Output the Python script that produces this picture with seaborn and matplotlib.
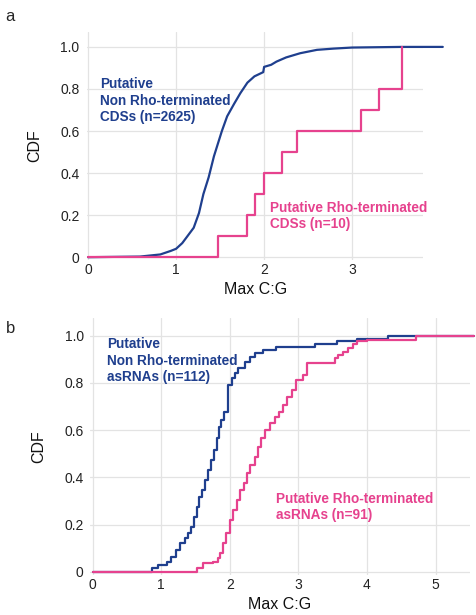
import seaborn as sns
import matplotlib.pyplot as plt

# a: CDSs (x = Max C:G, y = CDF)
cds_non_x = [0.0, 0.59, 0.82, 0.94, 1.0, 1.07, 1.12, 1.2, 1.26, 1.31, 1.37, 1.43, 1.49,
             1.52, 1.58, 1.66, 1.73, 1.81, 1.89, 1.99, 2.0, 2.08, 2.14, 2.25, 2.41,
             2.6, 2.79, 3.0, 3.56, 4.03]
cds_non_y = [0.0, 0.003, 0.013, 0.03, 0.04, 0.067, 0.095, 0.14, 0.21, 0.30, 0.38, 0.48,
             0.56, 0.60, 0.67, 0.73, 0.78, 0.83, 0.86, 0.88, 0.905, 0.915, 0.93, 0.95,
             0.97, 0.986, 0.992, 0.997, 1.0, 1.0]
# the 10 Rho-terminated CDSs
cds_rho = [1.48, 1.80, 1.90, 2.00, 2.20, 2.37, 3.10, 3.30, 3.57, 3.57]

# b: asRNAs (step corners)
as_non_x = [0, 0.86, 0.957, 1.09, 1.14, 1.22, 1.27, 1.35, 1.39, 1.44, 1.48, 1.52, 1.55,
            1.59, 1.64, 1.68, 1.73, 1.77, 1.81, 1.84, 1.87, 1.91, 1.97, 2.03, 2.07, 2.12,
            2.22, 2.29, 2.37, 2.49, 2.68, 3.24, 3.56, 3.85, 4.31, 5.56]
as_non_y = [0, 0.014, 0.028, 0.042, 0.064, 0.092, 0.12, 0.141, 0.163, 0.19, 0.233, 0.275,
            0.318, 0.346, 0.389, 0.43, 0.473, 0.516, 0.565, 0.614, 0.643, 0.675, 0.791,
            0.82, 0.84, 0.862, 0.89, 0.911, 0.925, 0.939, 0.953, 0.963, 0.977, 0.986,
            1.0, 1.0]
as_rho_x = [0, 1.52, 1.61, 1.76, 1.83, 1.86, 1.9, 1.95, 2.0, 2.05, 2.1, 2.15, 2.2, 2.25,
            2.29, 2.36, 2.41, 2.46, 2.51, 2.58, 2.66, 2.71, 2.78, 2.83, 2.9, 2.97, 3.06,
            3.12, 3.53, 3.58, 3.65, 3.73, 3.8, 3.85, 4.0, 4.72, 5.56]
as_rho_y = [0, 0.014, 0.035, 0.042, 0.06, 0.078, 0.12, 0.163, 0.219, 0.261, 0.304, 0.346,
            0.375, 0.417, 0.452, 0.487, 0.53, 0.565, 0.6, 0.629, 0.657, 0.678, 0.706,
            0.742, 0.77, 0.812, 0.833, 0.885, 0.904, 0.918, 0.932, 0.949, 0.963, 0.977,
            0.981, 1.0, 1.0]

blue = "#1f3f8e"
pink = "#e6428e"

sns.set_theme(style="whitegrid")
plt.rcParams["font.family"] = ["Liberation Sans", "DejaVu Sans"]
plt.rcParams["grid.color"] = "#e3e3e3"
plt.rcParams["grid.linewidth"] = 0.9

fig = plt.figure(figsize=(4.76, 6.15), dpi=100)
ax1 = fig.add_axes([0.183, 0.577, 0.706, 0.371])
ax2 = fig.add_axes([0.189, 0.065, 0.798, 0.418])


def curve(ax, x, y, color, step=True):
    sns.lineplot(x=x, y=y, ax=ax, color=color, lw=1.6,
                 drawstyle="steps-post" if step else "default",
                 estimator=None, sort=False, clip_on=False)


# panel a
curve(ax1, cds_non_x, cds_non_y, blue, step=False)
rho_x = [0.0] + cds_rho
rho_y = [0.0] + [(i + 1) / len(cds_rho) for i in range(len(cds_rho))]
curve(ax1, rho_x, rho_y, pink)
ax1.set_xlim(-0.011, 3.807)
ax1.set_ylim(-0.014, 1.071)
ax1.set_xticks([0, 1, 2, 3])
ax1.text(0.14, 0.855, "Putative\nNon Rho-terminated\nCDSs (n=2625)", color=blue,
         fontsize=9.8, fontweight="bold", va="top", linespacing=1.2)
ax1.text(2.07, 0.266, "Putative Rho-terminated\nCDSs (n=10)", color=pink,
         fontsize=9.8, fontweight="bold", va="top", linespacing=1.2)

# panel b
curve(ax2, as_non_x, as_non_y, blue)
curve(ax2, as_rho_x, as_rho_y, pink)
ax2.set_xlim(-0.04, 5.50)
ax2.set_ylim(-0.014, 1.075)
ax2.set_xticks([0, 1, 2, 3, 4, 5])
ax2.text(0.21, 0.993, "Putative\nNon Rho-terminated\nasRNAs (n=112)", color=blue,
         fontsize=9.8, fontweight="bold", va="top", linespacing=1.2)
ax2.text(2.67, 0.338, "Putative Rho-terminated\nasRNAs (n=91)", color=pink,
         fontsize=9.8, fontweight="bold", va="top", linespacing=1.2)

for ax, ypad in ((ax1, 5.5), (ax2, 4.5)):
    ax.set_yticks([0, 0.2, 0.4, 0.6, 0.8, 1.0])
    ax.set_yticklabels(["0", "0.2", "0.4", "0.6", "0.8", "1.0"])
    ax.tick_params(axis="both", length=0, labelsize=10, colors="#222222")
    ax.tick_params(axis="x", pad=2)
    ax.tick_params(axis="y", pad=ypad)
    ax.set_xlabel("Max C:G", fontsize=11.5, color="#111111", labelpad=4)
    ax.set_ylabel("CDF", fontsize=11.5, color="#111111", labelpad=13)
    for s in ax.spines.values():
        s.set_visible(False)
    ax.grid(True)

fig.text(0.012, 0.985, "a", fontsize=12, va="top")
fig.text(0.012, 0.478, "b", fontsize=12, va="top")

plt.savefig("out.png", dpi=100)
